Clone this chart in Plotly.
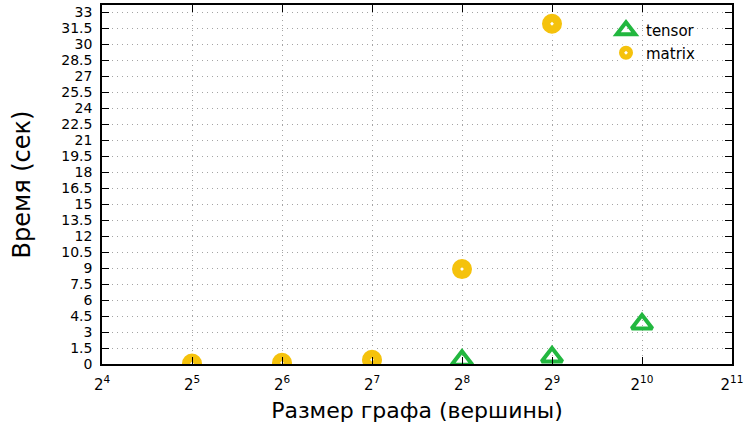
import plotly.graph_objects as go
import numpy as np

# Data
graph_sizes = [32, 64, 128, 256, 512, 1024]
tensor_times = [0.03, 0.05, 0.1, 0.35, 0.65, 3.75]
matrix_sizes = [32, 64, 128, 256, 512]
matrix_times = [0.05, 0.12, 0.4, 8.9, 31.9]

x_tick_exps = [4, 5, 6, 7, 8, 9, 10, 11]
y_tick_vals = [i * 1.5 for i in range(23)]
y_tick_text = [("%g" % v) for v in y_tick_vals]

GREEN = "#22b73f"
YELLOW = "#f5c20c"
FONT = "DejaVu Sans"

fig = go.Figure()
fig.add_trace(go.Scatter(
    x=graph_sizes, y=tensor_times, mode="markers", name="tensor",
    marker=dict(symbol="triangle-up-open", size=18, color=GREEN,
                line=dict(width=4, color=GREEN)),
))
fig.add_trace(go.Scatter(
    x=matrix_sizes, y=matrix_times, mode="markers", name="matrix",
    marker=dict(symbol="circle-dot", size=22, color=YELLOW,
                line=dict(width=2, color="white")),
))

axis_common = dict(
    showline=True, linecolor="black", linewidth=1.5, mirror="ticks",
    ticks="inside", ticklen=7, tickwidth=1, tickcolor="black",
    showgrid=True, gridcolor="#a4a4a4", griddash="1px,4px", gridwidth=1,
    zeroline=False, automargin=False, ticklabeloverflow="allow",
)

fig.update_xaxes(
    type="log",
    range=[np.log10(2 ** 4), np.log10(2 ** 11)],
    tickvals=[2 ** e for e in x_tick_exps],
    ticktext=["2<sup>%d</sup>" % e for e in x_tick_exps],
    tickfont=dict(family=FONT, size=15, color="black"),
    title_text="Размер графа (вершины)",
    title_font=dict(family=FONT, size=22, color="black"),
    title_standoff=10,
    ticklabelstandoff=6,
    **axis_common,
)
fig.update_yaxes(
    range=[0, 33.66],
    tickvals=y_tick_vals,
    ticktext=y_tick_text,
    tickfont=dict(family=FONT, size=14, color="black"),
    title_text="Время (сек)",
    title_font=dict(family=FONT, size=24, color="black"),
    title_standoff=24,
    ticklabelstandoff=5,
    **axis_common,
)

fig.update_layout(
    width=746, height=439,
    margin=dict(l=102, r=14, t=5, b=75),
    paper_bgcolor="white", plot_bgcolor="white",
    font=dict(family=FONT, size=15, color="black"),
    showlegend=True,
    legend=dict(
        x=0.80, y=0.975, xanchor="left", yanchor="top",
        bgcolor="rgba(0,0,0,0)", borderwidth=0,
        font=dict(family=FONT, size=15, color="black"),
        tracegroupgap=2,
    ),
)

# Remove the browser's default 8px body margin so the figure fills the window
fig.write_html(
    "out.html",
    config={"displayModeBar": False},
    post_script="document.body.style.margin='0';",
)
